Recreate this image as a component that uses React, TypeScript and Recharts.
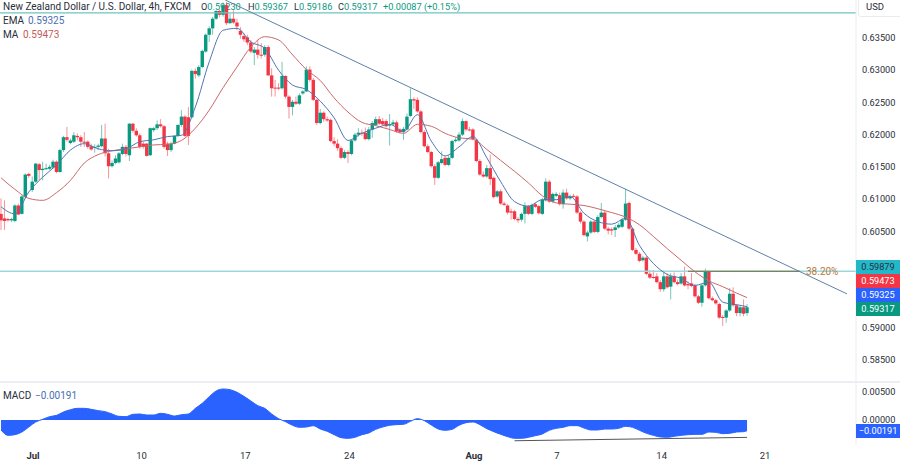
import { ComposedChart, Bar, Line, Area, XAxis, YAxis, ReferenceLine } from "recharts";

// all prices below are in pips (price * 10000), one per 4h bar
const opens = [
  6077, 6070, 6069, 6067, 6066, 6090, 6077, 6103, 6139, 6114,
  6127, 6154, 6145, 6147, 6147, 6149, 6158, 6142, 6176, 6196,
  6187, 6189, 6198, 6196, 6189, 6189, 6182, 6180, 6181, 6182,
  6194, 6171, 6151, 6156, 6157, 6170, 6181, 6168, 6217, 6206,
  6199, 6186, 6186, 6168, 6207, 6210, 6216, 6213, 6186, 6176,
  6186, 6198, 6215, 6228, 6227, 6227, 6299, 6292, 6305, 6329,
  6355, 6365, 6380, 6392, 6386, 6401, 6373, 6380, 6374, 6361,
  6353, 6351, 6343, 6327, 6332, 6324, 6324, 6336, 6292, 6273,
  6273, 6272, 6291, 6259, 6243, 6251, 6248, 6264, 6267, 6301,
  6285, 6254, 6218, 6234, 6224, 6223, 6190, 6186, 6179, 6164,
  6173, 6170, 6191, 6200, 6203, 6203, 6193, 6208, 6215, 6224,
  6221, 6221, 6214, 6216, 6219, 6208, 6204, 6208, 6229, 6255,
  6254, 6236, 6204, 6182, 6173, 6151, 6133, 6156, 6164, 6153,
  6164, 6190, 6191, 6200, 6221, 6208, 6208, 6192, 6159, 6138,
  6135, 6148, 6133, 6104, 6112, 6093, 6090, 6081, 6081, 6069,
  6068, 6077, 6089, 6077, 6092, 6089, 6077, 6098, 6127, 6096,
  6105, 6106, 6092, 6110, 6101, 6105, 6104, 6079, 6065, 6042,
  6048, 6065, 6049, 6072, 6079, 6054, 6053, 6052, 6056, 6057,
  6068, 6094, 6054, 6021, 6015, 6005, 6009, 5984, 5979, 5980,
  5971, 5960, 5980, 5964, 5980, 5971, 5969, 5980, 5968, 5969,
  5966, 5949, 5939, 5966, 5987, 5946, 5943, 5937, 5917, 5916,
  5927, 5953, 5935, 5923, 5932, 5923,
];
const closes = [
  6067, 6066, 6067, 6069, 6090, 6076, 6104, 6138, 6136, 6127,
  6155, 6145, 6147, 6148, 6150, 6158, 6142, 6176, 6196, 6192,
  6191, 6199, 6196, 6189, 6188, 6181, 6177, 6181, 6183, 6194,
  6171, 6151, 6156, 6163, 6171, 6181, 6170, 6217, 6206, 6199,
  6181, 6181, 6167, 6210, 6210, 6216, 6213, 6181, 6176, 6186,
  6198, 6215, 6228, 6198, 6198, 6299, 6294, 6305, 6330, 6355,
  6365, 6380, 6392, 6386, 6401, 6373, 6380, 6374, 6368, 6355,
  6348, 6343, 6329, 6332, 6324, 6323, 6336, 6292, 6272, 6272,
  6272, 6291, 6259, 6243, 6251, 6248, 6261, 6267, 6301, 6285,
  6254, 6218, 6234, 6224, 6222, 6190, 6186, 6179, 6164, 6173,
  6170, 6191, 6200, 6203, 6202, 6193, 6208, 6218, 6224, 6217,
  6216, 6213, 6216, 6219, 6205, 6204, 6209, 6228, 6255, 6253,
  6236, 6204, 6182, 6173, 6151, 6133, 6157, 6162, 6153, 6164,
  6190, 6192, 6200, 6221, 6208, 6207, 6193, 6159, 6138, 6135,
  6148, 6131, 6103, 6112, 6093, 6091, 6079, 6079, 6069, 6067,
  6077, 6089, 6077, 6091, 6088, 6078, 6099, 6127, 6096, 6108,
  6108, 6092, 6110, 6101, 6104, 6104, 6079, 6065, 6044, 6048,
  6065, 6049, 6072, 6079, 6054, 6051, 6051, 6056, 6060, 6068,
  6093, 6054, 6021, 6015, 6004, 6009, 5984, 5978, 5978, 5971,
  5960, 5980, 5963, 5980, 5971, 5968, 5980, 5966, 5966, 5965,
  5949, 5939, 5966, 5987, 5946, 5943, 5938, 5916, 5916, 5927,
  5953, 5935, 5923, 5932, 5922, 5932,
];
const highs = [
  6101, 6098, 6071, 6071, 6092, 6093, 6106, 6140, 6141, 6135,
  6156, 6156, 6158, 6155, 6153, 6161, 6160, 6178, 6198, 6212,
  6194, 6204, 6202, 6199, 6204, 6191, 6186, 6185, 6186, 6215,
  6217, 6178, 6160, 6168, 6173, 6186, 6184, 6218, 6218, 6210,
  6202, 6189, 6187, 6211, 6212, 6222, 6224, 6215, 6189, 6189,
  6199, 6216, 6238, 6230, 6243, 6301, 6303, 6308, 6332, 6357,
  6368, 6383, 6393, 6394, 6405, 6406, 6388, 6393, 6380, 6367,
  6357, 6355, 6347, 6336, 6347, 6342, 6339, 6339, 6303, 6285,
  6280, 6313, 6292, 6261, 6254, 6259, 6264, 6269, 6306, 6306,
  6288, 6256, 6240, 6236, 6228, 6225, 6196, 6193, 6182, 6176,
  6176, 6193, 6203, 6210, 6208, 6211, 6212, 6221, 6228, 6229,
  6226, 6224, 6232, 6223, 6222, 6210, 6212, 6233, 6272, 6258,
  6258, 6238, 6207, 6185, 6175, 6154, 6159, 6174, 6167, 6168,
  6192, 6196, 6204, 6225, 6222, 6212, 6210, 6194, 6162, 6143,
  6153, 6169, 6135, 6114, 6115, 6096, 6092, 6085, 6083, 6072,
  6079, 6095, 6091, 6093, 6095, 6091, 6102, 6132, 6130, 6110,
  6111, 6110, 6115, 6116, 6107, 6108, 6106, 6081, 6067, 6051,
  6067, 6067, 6075, 6094, 6082, 6057, 6056, 6060, 6063, 6071,
  6116, 6096, 6056, 6024, 6018, 6012, 6012, 5990, 5990, 5985,
  5974, 5989, 5985, 5985, 5986, 5975, 5985, 5995, 5972, 5985,
  5968, 5951, 5968, 5992, 5989, 5949, 5945, 5939, 5920, 5929,
  5962, 5963, 5937, 5934, 5944, 5937,
];
const lows = [
  6052, 6052, 6065, 6064, 6064, 6075, 6076, 6101, 6133, 6111,
  6125, 6129, 6129, 6145, 6145, 6147, 6140, 6141, 6173, 6189,
  6185, 6187, 6191, 6181, 6181, 6178, 6175, 6172, 6176, 6180,
  6166, 6132, 6149, 6154, 6155, 6168, 6166, 6159, 6203, 6197,
  6178, 6178, 6166, 6167, 6204, 6207, 6211, 6178, 6167, 6173,
  6185, 6196, 6212, 6196, 6184, 6225, 6287, 6289, 6303, 6327,
  6344, 6355, 6378, 6382, 6383, 6370, 6372, 6372, 6362, 6349,
  6344, 6339, 6326, 6308, 6318, 6318, 6321, 6291, 6259, 6259,
  6269, 6270, 6256, 6225, 6230, 6246, 6246, 6262, 6266, 6282,
  6252, 6215, 6216, 6220, 6220, 6188, 6182, 6175, 6162, 6162,
  6156, 6168, 6189, 6197, 6198, 6192, 6191, 6195, 6213, 6215,
  6214, 6211, 6183, 6214, 6203, 6202, 6192, 6206, 6227, 6240,
  6234, 6202, 6180, 6171, 6149, 6122, 6131, 6154, 6151, 6151,
  6162, 6188, 6189, 6198, 6205, 6205, 6191, 6157, 6136, 6133,
  6133, 6122, 6101, 6102, 6091, 6089, 6076, 6068, 6067, 6063,
  6065, 6062, 6075, 6075, 6086, 6076, 6075, 6096, 6094, 6094,
  6103, 6090, 6085, 6099, 6098, 6102, 6077, 6062, 6042, 6034,
  6046, 6047, 6047, 6070, 6052, 6045, 6044, 6041, 6054, 6055,
  6066, 6052, 6019, 6013, 6002, 6003, 5982, 5976, 5976, 5969,
  5956, 5956, 5961, 5944, 5969, 5966, 5967, 5964, 5960, 5963,
  5947, 5937, 5933, 5964, 5944, 5941, 5936, 5914, 5903, 5908,
  5925, 5933, 5918, 5918, 5918, 5919,
];

// moving averages, read every 4th bar (plus the last bar)
const emaValues = [
  6088, 6077, 6111, 6134, 6153, 6176, 6186, 6178, 6175, 6178,
  6189, 6192, 6197, 6199, 6243, 6313, 6362, 6365, 6344, 6334,
  6300, 6277, 6270, 6252, 6226, 6191, 6202, 6210, 6216, 6205,
  6231, 6190, 6167, 6181, 6197, 6164, 6127, 6096, 6089, 6099,
  6099, 6104, 6078, 6065, 6061, 6070, 6028, 6000, 5983, 5977,
  5966, 5971, 5940, 5936, 5933,
];
const maValues = [
  6133, 6115, 6101, 6098, 6110, 6129, 6156, 6169, 6175, 6178,
  6181, 6184, 6185, 6191, 6210, 6238, 6273, 6305, 6336, 6352,
  6347, 6324, 6301, 6284, 6257, 6235, 6219, 6214, 6208, 6202,
  6216, 6213, 6202, 6195, 6193, 6177, 6160, 6143, 6125, 6105,
  6094, 6092, 6090, 6085, 6079, 6072, 6060, 6042, 6023, 6005,
  5987, 5973, 5964, 5954, 5947,
];

// MACD, read every 2nd bar (plus the last bar), in 1e-5
const macdValues = [
  -178, -274, -262, -214, -125, -36, 12, 60, 83, 143,
  184, 208, 208, 190, 167, 149, 107, 65, 60, 101,
  107, 89, 89, 119, 101, 71, 95, 107, 208, 298,
  416, 518, 553, 541, 494, 422, 339, 256, 208, 107,
  24, -30, -95, -131, -125, -101, -161, -202, -262, -315,
  -327, -309, -262, -232, -167, -125, -95, -83, -77, -24,
  24, -12, -89, -161, -184, -167, -95, -48, -36, -83,
  -155, -208, -256, -298, -327, -327, -309, -280, -250, -184,
  -149, -131, -101, -101, -143, -178, -178, -161, -161, -149,
  -113, -131, -184, -238, -274, -303, -309, -291, -274, -262,
  -256, -256, -214, -220, -244, -238, -214, -208, -191,
];

const priceTicks = [0.635, 0.63, 0.625, 0.62, 0.615, 0.61, 0.605, 0.59, 0.585];
const macdTicks = [0.005, 0];
// bar index under each date label
const dateTicks = [9.2, 40.5, 70.4, 100.4, 136.3, 160.2, 190.4, 220.2];
const dateLabels = ["Jul", "10", "17", "24", "Aug", "7", "14", "21"];

const LAST_BAR = opens.length - 1;
const X_DOMAIN = [-0.3, 246.4];

const candles = opens.map((o, i) => ({
  bar: i,
  open: o / 10000,
  close: closes[i] / 10000,
  range: [lows[i] / 10000, highs[i] / 10000],
}));
const emaData = emaValues.map((v, k) => ({ bar: Math.min(k * 4, LAST_BAR), ema: v / 10000 }));
const maData = maValues.map((v, k) => ({ bar: Math.min(k * 4, LAST_BAR), ma: v / 10000 }));
const macdData = macdValues.map((v, k) => ({ bar: Math.min(k * 2, LAST_BAR), macd: v / 100000 }));

const FONT = "Roboto, sans-serif";
const UP = "#089981";
const DOWN = "#f23645";
const TEXT = "#2a2e39";

function Candle(props: any) {
  const { x, y, width, height, payload } = props;
  const [low, high] = payload.range;
  const k = height / (high - low);
  const top = y + (high - Math.max(payload.open, payload.close)) * k;
  const bodyH = Math.max(Math.abs(payload.open - payload.close) * k, 1);
  const color = payload.close >= payload.open ? UP : DOWN;
  return (
    <g>
      <line x1={x + width / 2} x2={x + width / 2} y1={y} y2={y + height} stroke={color} strokeOpacity={0.55} strokeWidth={1} />
      <rect x={x} y={top} width={width} height={bodyH} fill={color} />
    </g>
  );
}

function DateTick(props: any) {
  const { x, y, index } = props;
  const label = dateLabels[index];
  const bold = label === "Jul" || label === "Aug";
  return (
    <text x={x} y={y + 3} textAnchor="middle" dominantBaseline="middle" fontSize={9.5} fontFamily={FONT} fontWeight={bold ? 700 : 400} fill={TEXT}>
      {label}
    </text>
  );
}

function Txt({ x, y, color = TEXT, size = 10, children }: any) {
  return (
    <div style={{ position: "absolute", left: x, top: y, color, fontSize: size, lineHeight: "12px", fontFamily: FONT, whiteSpace: "nowrap" }}>
      {children}
    </div>
  );
}

function PriceBox({ y, bg, color = "#fff", children }: any) {
  return (
    <div style={{ position: "absolute", left: 856, top: y, width: 44, height: 14, background: bg, color, fontSize: 9.2, lineHeight: "14px", fontFamily: FONT, textAlign: "center" }}>
      {children}
    </div>
  );
}

export default function App() {
  const tick = { fontSize: 9.2, fontFamily: FONT, fill: TEXT };
  return (
    <div style={{ position: "absolute", left: 0, top: 0, width: 900, height: 463, background: "#fff", overflow: "hidden" }}>
      <Txt x={3} y={1}>New Zealand Dollar / U.S. Dollar, 4h, FXCM</Txt>
      <Txt x={201} y={1} size={9.2}>O<span style={{ color: UP }}>0.59230</span></Txt>
      <Txt x={248} y={1} size={9.2}>H<span style={{ color: UP }}>0.59367</span></Txt>
      <Txt x={294} y={1} size={9.2}>L<span style={{ color: UP }}>0.59186</span></Txt>
      <Txt x={338} y={1} size={9.2}>C<span style={{ color: UP }}>0.59317</span></Txt>
      <Txt x={383} y={1} size={9.2} color={UP}>+0.00087 (+0.15%)</Txt>
      <Txt x={3} y={15}>EMA</Txt>
      <Txt x={28} y={15} color="#4a6fb0">0.59325</Txt>
      <Txt x={3} y={29}>MA</Txt>
      <Txt x={23} y={29} color="#c25b5b">0.59473</Txt>
      <Txt x={3} y={390}>MACD</Txt>
      <Txt x={35} y={390} color="#4a6fb0">−0.00191</Txt>

      <div style={{ position: "absolute", left: 0, top: 0 }}>
        <ComposedChart width={900} height={382} data={candles} margin={{ top: 0, right: 0, bottom: 0, left: 0 }}>
          <XAxis dataKey="bar" type="number" domain={X_DOMAIN} hide allowDuplicatedCategory={false} />
          <YAxis
            orientation="right"
            width={44}
            domain={[0.5816, 0.6409]}
            ticks={priceTicks}
            tickFormatter={(v: number) => v.toFixed(5)}
            tick={tick}
            tickLine={false}
            tickSize={0}
            tickMargin={6}
            axisLine={{ stroke: "#e9ebf0" }}
            allowDataOverflow
          />
          <ReferenceLine y={0.6389} stroke="#6fc3c4" strokeWidth={1.2} />
          <ReferenceLine y={0.59879} stroke="#9ed6db" strokeWidth={1.5} />
          <ReferenceLine segment={[{ x: 198, y: 0.59879 }, { x: 230.3, y: 0.59879 }]} stroke="#6b6b3a" />
          <ReferenceLine segment={[{ x: 64.6, y: 0.6409 }, { x: 243.8, y: 0.59528 }]} stroke="#5f80a8" />
          <Bar dataKey="range" barSize={3.4} shape={Candle} isAnimationActive={false} />
          <Line data={maData} dataKey="ma" type="monotone" stroke="#c9696b" strokeWidth={1} dot={false} activeDot={false} isAnimationActive={false} />
          <Line data={emaData} dataKey="ema" type="monotone" stroke="#4f74b3" strokeWidth={1} dot={false} activeDot={false} isAnimationActive={false} />
        </ComposedChart>
      </div>

      <div style={{ position: "absolute", left: 0, top: 381, width: 900, height: 2, background: "#eceef2" }} />

      <div style={{ position: "absolute", left: 0, top: 383 }}>
        <ComposedChart width={900} height={80} data={macdData} margin={{ top: 0, right: 0, bottom: 0, left: 0 }}>
          <XAxis
            dataKey="bar"
            type="number"
            domain={X_DOMAIN}
            ticks={dateTicks}
            interval={0}
            height={18}
            tick={DateTick}
            tickLine={false}
            axisLine={false}
          />
          <YAxis
            orientation="right"
            width={44}
            domain={[-0.00446, 0.0066]}
            ticks={macdTicks}
            tickFormatter={(v: number) => v.toFixed(5)}
            tick={tick}
            tickLine={false}
            tickSize={0}
            tickMargin={6}
            axisLine={{ stroke: "#e9ebf0" }}
            allowDataOverflow
          />
          <Area dataKey="macd" type="monotone" baseValue={0} stroke="#2962ff" fill="#2962ff" fillOpacity={1} dot={false} activeDot={false} isAnimationActive={false} />
          <ReferenceLine segment={[{ x: 148, y: -0.0037 }, { x: 215, y: -0.0031 }]} stroke="#555" />
        </ComposedChart>
      </div>

      <div style={{ position: "absolute", left: 858, top: -1, width: 44, height: 16, background: "#fff", border: "1px solid #e9ebf0", borderBottomLeftRadius: 3 }} />
      <Txt x={866} y={1} size={9.5}>USD</Txt>
      <Txt x={806} y={266} color="#b57b3f">38.20%</Txt>
      <PriceBox y={260} bg="#22b8c9" color={TEXT}>0.59879</PriceBox>
      <PriceBox y={274} bg={DOWN}>0.59473</PriceBox>
      <PriceBox y={288} bg="#2962ff">0.59325</PriceBox>
      <PriceBox y={302} bg={UP}>0.59317</PriceBox>
      <PriceBox y={424} bg="#2962ff">−0.00191</PriceBox>
    </div>
  );
}
